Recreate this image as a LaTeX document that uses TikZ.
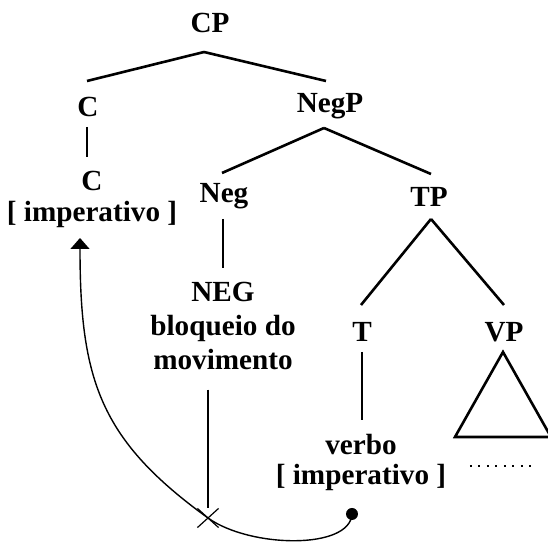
\documentclass[tikz,border=0pt]{standalone}
\usepackage{fontspec}
\setmainfont{Liberation Serif}
\usepackage{tikz}
\usetikzlibrary{arrows.meta,shapes.misc}

\begin{document}
\begin{tikzpicture}[
    x=0.5pt, y=-0.5pt,
    lbl/.style={anchor=base, inner sep=0pt, align=center, font=\fontsize{14.6pt}{#1}\selectfont\bfseries},
    lbl/.default=15.5pt,
    edge/.style={line width=1.3pt},
    move/.style={line width=0.7pt},
    dots/.style={line width=1pt, dash pattern=on 1pt off 3.25pt}
]
\useasboundingbox (0,0) rectangle (548,544);
\node[lbl] (cp) at (210,33) {CP};
\node[lbl] (c1) at (88,117) {C};
\node[lbl] (negp) at (330,113) {NegP};
\node[lbl] (c0) at (92,222) {C\\{[} imperativo ]};
\node[lbl] (neg) at (224,203) {Neg};
\node[lbl] (tp) at (429,207) {TP};
\node[lbl=17pt] (negw) at (223,370) {NEG\\bloqueio do\\movimento};
\node[lbl] (t) at (362,342) {T};
\node[lbl] (vp) at (504,342) {VP};
\node[lbl=15pt] (verb) at (361,485) {verbo\\{[} imperativo ]};
\node[draw, cross out, minimum width=10pt, minimum height=9pt, inner sep=0pt, line width=0.6pt] (x) at (208,518) {};
\node[circle, fill, minimum size=6pt, inner sep=0pt] (dot) at (352,514) {};
\coordinate (tip) at ([xshift=-6pt,yshift=-8pt]c0.base);

\draw[edge] ([xshift=-3pt,yshift=-9.5pt]cp.base) -- ([xshift=-0.5pt,yshift=18pt]c1.base);
\draw[edge] ([xshift=-3pt,yshift=-9.5pt]cp.base) -- ([xshift=-2pt,yshift=16pt]negp.base);
\draw[edge] ([xshift=-0.5pt,yshift=-5pt]c1.base) -- ([xshift=-2.5pt,yshift=32.5pt]c0.base);
\draw[edge] ([xshift=-3pt,yshift=-7.5pt]negp.base) -- ([xshift=-1pt,yshift=15pt]neg.base);
\draw[edge] ([xshift=-3pt,yshift=-7.5pt]negp.base) -- ([xshift=1pt,yshift=16.5pt]tp.base);
\draw[edge] ([xshift=-0.5pt,yshift=-8pt]neg.base) -- ([yshift=51pt]negw.base);
\draw[edge] ([xshift=1pt,yshift=-6pt]tp.base) -- ([xshift=-0.5pt,yshift=18.5pt]t.base);
\draw[edge] ([xshift=1pt,yshift=-6pt]tp.base) -- ([yshift=18.5pt]vp.base);
\draw[edge] ([yshift=-5pt]t.base) -- ([xshift=0.5pt,yshift=32.5pt]verb.base);
\draw[edge] ([xshift=-0.5pt,yshift=-5pt]vp.base) -- ++(-48,85) -- ++(96,0) -- cycle;
\draw[dots] ([xshift=-17pt,yshift=-62pt]vp.base) -- ++(68,0);
\draw[edge, shorten <=9.5pt] (x.north |- negw.south) -- (x.north);
\draw[move, -{Triangle[width=9.5pt,length=5.5pt]}] (dot.center) .. controls (350,550) and (250,548) .. (x.center) .. controls (100,440) and (80,380) .. (tip);
\end{tikzpicture}
\end{document}
